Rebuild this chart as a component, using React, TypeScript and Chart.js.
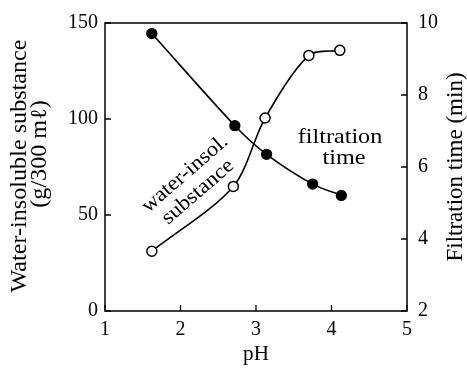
import React, { useEffect, useRef } from "react";
import { Chart, registerables } from "chart.js";

Chart.register(...registerables);

const phInsoluble = [1.62, 2.72, 3.14, 3.75, 4.13];
const insolubleValues = [144.5, 96.5, 81.6, 66.1, 60.2];
const phFiltration = [1.62, 2.7, 3.12, 3.7, 4.11];
const filtrationValues = [3.66, 5.46, 7.36, 9.1, 9.24];
const xTicks = [1, 2, 3, 4, 5];
const leftTicks = [0, 50, 100, 150];
const rightTicks = [2, 4, 6, 8, 10];

const FONT = '"Liberation Serif", "DejaVu Serif", serif';

const framePlugin = {
  id: "frameAndText",
  afterDraw(chart: any) {
    const { ctx, chartArea } = chart;
    const { left, right, top, bottom } = chartArea;
    const sx = chart.scales.x;
    const sy = chart.scales.y;
    const sy2 = chart.scales.y2;
    ctx.save();
    ctx.strokeStyle = "#000";
    ctx.lineWidth = 1.5;
    ctx.strokeRect(left, top, right - left, bottom - top);
    ctx.lineWidth = 1.3;
    const tl = 6;
    ctx.beginPath();
    xTicks.forEach((v) => {
      const px = sx.getPixelForValue(v);
      ctx.moveTo(px, bottom);
      ctx.lineTo(px, bottom - tl);
    });
    leftTicks.forEach((v) => {
      const py = sy.getPixelForValue(v);
      ctx.moveTo(left, py);
      ctx.lineTo(left + tl, py);
    });
    rightTicks.forEach((v) => {
      const py = sy2.getPixelForValue(v);
      ctx.moveTo(right, py);
      ctx.lineTo(right - tl, py);
    });
    ctx.stroke();

    ctx.fillStyle = "#000";
    ctx.textAlign = "center";
    ctx.textBaseline = "middle";
    const drawText = (t: string, x: number, y: number, rot: number, size: number, sxs = 1) => {
      ctx.save();
      ctx.translate(x, y);
      ctx.rotate(rot);
      ctx.scale(sxs, 1);
      ctx.font = `${size}px ${FONT}`;
      ctx.fillText(t, 0, 0);
      ctx.restore();
    };
    // axis titles
    drawText("Water-insoluble substance", 20, 166, -Math.PI / 2, 23, 1.05);
    drawText("(g/300 m\u2113)", 40, 154, -Math.PI / 2, 23, 1.05);
    drawText("Filtration time (min)", 456, 167, -Math.PI / 2, 23, 1.0);
    drawText("pH", (left + right) / 2, 355, 0, 20, 1.06);
    // annotations
    const ang = (-41 * Math.PI) / 180;
    drawText("water-insol.", 185, 174, ang, 21, 1.08);
    drawText("substance", 198, 192, ang, 21, 1.08);
    drawText("filtration", 340, 137, 0, 21, 1.15);
    drawText("time", 344, 158, 0, 21, 1.15);
    ctx.restore();
  },
};

export default function App() {
  const ref = useRef<HTMLCanvasElement | null>(null);
  useEffect(() => {
    let chart: any = null;
    let cancelled = false;
    const build = () => {
      if (cancelled || !ref.current) return;
      chart = new Chart(ref.current, {
        type: "scatter",
        data: {
          datasets: [
            {
              label: "water-insol. substance",
              data: phInsoluble.map((x, i) => ({ x, y: insolubleValues[i] })),
              yAxisID: "y",
              showLine: true,
              borderColor: "#000",
              borderWidth: 1.6,
              backgroundColor: "#000",
              pointRadius: 5,
              pointBorderWidth: 1.3,
              pointBorderColor: "#000",
              pointBackgroundColor: "#000",
              tension: 0.3,
            },
            {
              label: "filtration time",
              data: phFiltration.map((x, i) => ({ x, y: filtrationValues[i] })),
              yAxisID: "y2",
              showLine: true,
              borderColor: "#000",
              borderWidth: 1.6,
              backgroundColor: "#fff",
              pointRadius: 5,
              pointBorderWidth: 1.5,
              pointBorderColor: "#000",
              pointBackgroundColor: "#fff",
              tension: 0.3,
            },
          ],
        },
        options: {
          animation: false,
          responsive: false,
          maintainAspectRatio: false,
          layout: { padding: { top: 20, left: 0, right: 0, bottom: 0 } },
          plugins: { legend: { display: false }, tooltip: { enabled: false } },
          scales: {
            x: {
              type: "linear",
              min: 1,
              max: 5,
              afterBuildTicks: (s: any) => {
                s.ticks = xTicks.map((v) => ({ value: v }));
              },
              afterFit: (s: any) => {
                s.height = 58;
              },
              grid: { display: false, drawTicks: false },
              border: { display: false },
              ticks: { color: "#000", padding: 7, font: { family: FONT, size: 20 } },
            },
            y: {
              type: "linear",
              position: "left",
              min: 0,
              max: 150,
              afterBuildTicks: (s: any) => {
                s.ticks = leftTicks.map((v) => ({ value: v }));
              },
              afterFit: (s: any) => {
                s.width = 105;
              },
              grid: { display: false, drawTicks: false },
              border: { display: false },
              ticks: { color: "#000", padding: 7, font: { family: FONT, size: 20 } },
            },
            y2: {
              type: "linear",
              position: "right",
              min: 2,
              max: 10,
              afterBuildTicks: (s: any) => {
                s.ticks = rightTicks.map((v) => ({ value: v }));
              },
              afterFit: (s: any) => {
                s.width = 60;
              },
              grid: { display: false, drawTicks: false },
              border: { display: false },
              ticks: { color: "#000", padding: 11, font: { family: FONT, size: 20 } },
            },
          },
        },
        plugins: [framePlugin],
      } as any);
    };
    const fonts: any = (document as any).fonts;
    if (fonts && fonts.load) {
      Promise.all([fonts.load('20px "Liberation Serif"'), fonts.load('20px "DejaVu Serif"')])
        .catch(() => null)
        .then(() => build());
    } else {
      build();
    }
    return () => {
      cancelled = true;
      if (chart) chart.destroy();
    };
  }, []);
  return (
    <div style={{ position: "fixed", left: 0, top: 0, width: 467, height: 369, background: "#fff" }}>
      <canvas ref={ref} width={467} height={369} style={{ width: 467, height: 369 }} />
    </div>
  );
}
